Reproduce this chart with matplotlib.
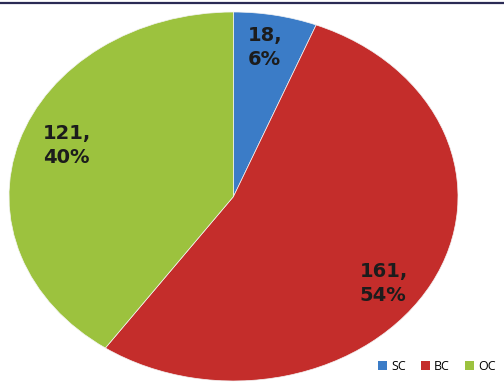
import numpy as np
import matplotlib
matplotlib.use("Agg")
import matplotlib.pyplot as plt
from matplotlib.lines import Line2D
from matplotlib.patches import Patch

# Category counts
categories = ["SC", "BC", "OC"]
counts = [18, 161, 121]
colors = ["#3b7cc7", "#c42d2b", "#9cc23e"]

# Label placement (radius as fraction of pie radius, angular nudge in degrees)
label_radius = [0.82, 0.82, 0.79]
label_nudge = [1.0, -7.0, -3.0]

W, H = 504, 385
fig = plt.figure(figsize=(W / 100, H / 100), dpi=100)

# Axes holding the (slightly elliptical) pie
left, right, top, bottom = 9, 458, 12, 381
ax = fig.add_axes([left / W, 1 - bottom / H, (right - left) / W, (bottom - top) / H])
wedges, _ = ax.pie(counts, colors=colors, startangle=90, counterclock=False,
                   radius=1.0, frame=True,
                   wedgeprops=dict(linewidth=0.5, edgecolor="#f4f4f4"))
ax.set_xlim(-1, 1)
ax.set_ylim(-1, 1)
ax.set_aspect("auto")
ax.axis("off")

total = sum(counts)
for w, n, r, d in zip(wedges, counts, label_radius, label_nudge):
    mid = np.deg2rad((w.theta1 + w.theta2) / 2 + d)
    pct = round(100 * n / total)
    ax.text(r * np.cos(mid), r * np.sin(mid), f"{n},\n{pct}%",
            ha="center", va="center", multialignment="left",
            fontsize=14, fontweight="bold", color="#1c1c1c",
            family="DejaVu Sans", linespacing=1.3)

# Legend in the lower right corner
handles = [Patch(facecolor=c, edgecolor="none") for c in colors]
fig.legend(handles, categories, loc="center right", ncol=3,
           bbox_to_anchor=(502 / W, 1 - 366 / H), frameon=False,
           prop=dict(family="Open Sans", size=9),
           handlelength=0.7, handleheight=0.7, handletextpad=0.35,
           columnspacing=1.2, borderpad=0.0)

# Dark rule across the top
fig.add_artist(Line2D([0, 1], [1 - 2.5 / H, 1 - 2.5 / H], transform=fig.transFigure,
                      color="#2b2b55", linewidth=1.6))

fig.savefig("out.png", dpi=100)
